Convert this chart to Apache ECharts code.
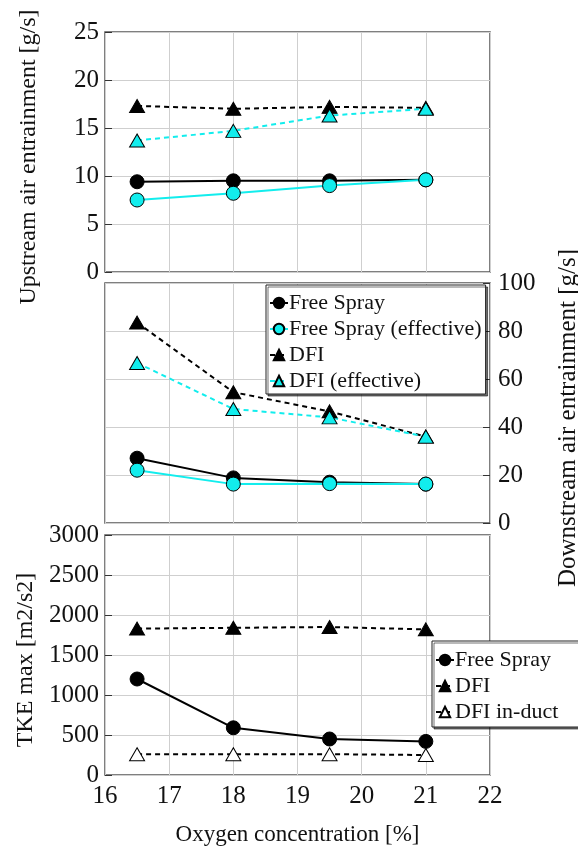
<!DOCTYPE html>
<html>
<head>
<meta charset="utf-8">
<script src="https://cdn.jsdelivr.net/npm/echarts@6/dist/echarts.min.js"></script>
<style>
  html, body { margin: 0; padding: 0; background: #fff; }
  #chart { width: 578px; height: 848px; }
</style>
</head>
<body>
<div id="chart"></div>
<script>
// Oxygen concentration [%] at which each case was run
const oxygen = [16.5, 18, 19.5, 21];

// Upstream air entrainment [g/s]
const upFree = [9.4, 9.5, 9.5, 9.6];
const upFreeEff = [7.5, 8.2, 9.0, 9.6];
const upDfi = [17.3, 17.0, 17.2, 17.1];
const upDfiEff = [13.7, 14.7, 16.3, 17.0];

// Downstream air entrainment [g/s]
const downFree = [27, 18.8, 17, 16.2];
const downFreeEff = [22, 16.2, 16.4, 16.2];
const downDfi = [83.5, 54.5, 46.5, 36];
const downDfiEff = [66.7, 47.5, 44, 36];

// Maximum turbulent kinetic energy [m2/s2]
const tkeFree = [1200, 590, 450, 420];
const tkeDfi = [1830, 1840, 1850, 1820];
const tkeInduct = [260, 260, 260, 250];

const FONT = 'Liberation Serif';
const CYAN = '#12eded';
const pairs = ys => oxygen.map((x, i) => [x, ys[i]]);

const chart = echarts.init(document.getElementById('chart'), null, { renderer: 'canvas' });

const gridBase = {
  left: 105, right: 88, height: 240, show: true,
  borderColor: '#555', borderWidth: 1.5, backgroundColor: '#fff',
  containLabel: false, outerBoundsMode: 'none'
};
const grids = [
  Object.assign({ top: 32 }, gridBase),
  Object.assign({ top: 283 }, gridBase),
  Object.assign({ top: 535 }, gridBase)
];

const splitLine = { show: true, lineStyle: { color: '#cfcfcf', width: 1 } };

function xAxis(idx, showLabels) {
  return {
    type: 'value', gridIndex: idx, min: 16, max: 22, interval: 1,
    axisLine: { show: false }, axisTick: { show: false },
    splitLine,
    axisLabel: { show: showLabels, color: '#111', fontFamily: FONT, fontSize: 25, margin: 9 },
    name: showLabels ? 'Oxygen concentration [%]' : '',
    nameLocation: 'middle', nameGap: 48,
    nameTextStyle: { color: '#111', fontFamily: FONT, fontSize: 23 }
  };
}

// shift moves the rotated title down along the axis (in px)
function yAxis(idx, pos, max, interval, name, gap, size, shift) {
  return {
    type: 'value', gridIndex: idx, position: pos, min: 0, max, interval,
    axisLine: { show: false },
    axisTick: { show: true, inside: true, length: 7, lineStyle: { color: '#333', width: 1 } },
    splitLine,
    axisLabel: { color: '#111', fontFamily: FONT, fontSize: 25, margin: pos === 'left' ? 6 : 8, formatter: v => String(v) },
    name, nameLocation: 'middle', nameGap: gap, nameRotate: 90,
    nameTextStyle: { color: '#111', fontFamily: FONT, fontSize: size, padding: [0, shift * 2, 0, 0] }
  };
}

const circle = (fill) => ({ symbol: 'circle', symbolSize: 14, itemStyle: { color: fill, borderColor: '#000', borderWidth: 1 } });
const tri = (fill) => ({ symbol: 'triangle', symbolSize: [15, 13], itemStyle: { color: fill, borderColor: '#000', borderWidth: 1 } });

function line(name, idx, ys, color, dashed, marker) {
  return Object.assign({
    name, type: 'line', xAxisIndex: idx, yAxisIndex: idx,
    data: pairs(ys),
    showSymbol: true,
    lineStyle: { color, width: 2, type: dashed ? [5, 4] : 'solid' },
    emphasis: { disabled: true },
    animation: false
  }, marker);
}

const legendBase = {
  orient: 'vertical',
  backgroundColor: '#fff', borderColor: '#222', borderWidth: 1,
  shadowColor: 'rgba(0,0,0,0.55)', shadowOffsetX: 2, shadowOffsetY: 2, shadowBlur: 0,
  itemWidth: 18, itemHeight: 13, itemGap: 4,
  textStyle: { color: '#111', fontFamily: FONT, fontSize: 22, lineHeight: 22, padding: [0, 0, 0, -4] },
  selectedMode: false
};

chart.setOption({
  backgroundColor: '#fff',
  grid: grids,
  xAxis: [xAxis(0, false), xAxis(1, false), xAxis(2, true)],
  yAxis: [
    yAxis(0, 'left', 25, 5, 'Upstream air entrainment [g/s]', 64, 24, 5),
    yAxis(1, 'right', 100, 20, 'Downstream air entrainment [g/s]', 66, 25, 15),
    yAxis(2, 'left', 3000, 500, 'TKE max [m2/s2]', 64, 24, 5)
  ],
  legend: [
    Object.assign({
      left: 266, top: 285, padding: [7, 4, 2, 3],
      data: ['Free Spray', 'Free Spray (effective)', 'DFI', 'DFI (effective)']
    }, legendBase),
    Object.assign({
      left: 432, top: 641, padding: [8, 30, 4, 3],
      data: ['Free Spray', 'DFI', 'DFI in-duct']
    }, legendBase)
  ],
  series: [
    line('Free Spray', 0, upFree, '#000', false, circle('#000')),
    line('Free Spray (effective)', 0, upFreeEff, CYAN, false, circle(CYAN)),
    line('DFI', 0, upDfi, '#000', true, tri('#000')),
    line('DFI (effective)', 0, upDfiEff, CYAN, true, tri(CYAN)),

    line('Free Spray', 1, downFree, '#000', false, circle('#000')),
    line('Free Spray (effective)', 1, downFreeEff, CYAN, false, circle(CYAN)),
    line('DFI', 1, downDfi, '#000', true, tri('#000')),
    line('DFI (effective)', 1, downDfiEff, CYAN, true, tri(CYAN)),

    line('Free Spray', 2, tkeFree, '#000', false, circle('#000')),
    line('DFI', 2, tkeDfi, '#000', true, tri('#000')),
    line('DFI in-duct', 2, tkeInduct, '#000', true, tri('#fff'))
  ]
});
</script>
</body>
</html>
